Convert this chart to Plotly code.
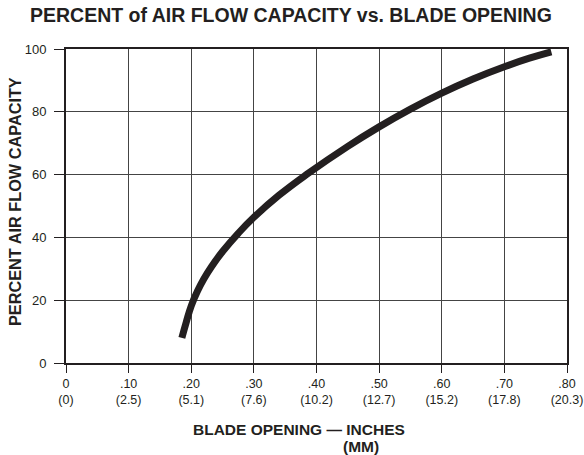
import plotly.graph_objects as go

blade_opening_in = [0.185, 0.192, 0.20, 0.21, 0.22, 0.232, 0.25, 0.275, 0.30, 0.34,
                    0.386, 0.45, 0.50, 0.55, 0.60, 0.65, 0.70, 0.74, 0.775]
air_flow_pct = [8, 13, 18.2, 22.9, 26.75, 30.6, 35.5, 41.3, 46.4, 53.4,
                60.3, 69.0, 75.2, 80.85, 85.95, 90.45, 94.35, 97.07, 99.1]

x_tick_vals = [0, 0.1, 0.2, 0.3, 0.4, 0.5, 0.6, 0.7, 0.8]
x_tick_in = ["0", ".10", ".20", ".30", ".40", ".50", ".60", ".70", ".80"]
x_tick_mm = ["(0)", "(2.5)", "(5.1)", "(7.6)", "(10.2)", "(12.7)", "(15.2)", "(17.8)", "(20.3)"]
y_tick_vals = [0, 20, 40, 60, 80, 100]

ink = "#231f20"
font = "Liberation Sans, Arial, Helvetica, sans-serif"

fig = go.Figure()
fig.add_trace(go.Scatter(
    x=blade_opening_in, y=air_flow_pct, mode="lines",
    line=dict(color=ink, width=7, shape="spline", smoothing=1.3),
    hoverinfo="skip", showlegend=False,
))

W, H = 584, 455
ml, mr, mt, mb = 66, 17, 49, 92
pw, ph = W - ml - mr, H - mt - mb

def px(xp):
    return (xp - ml) / pw

def py(yp):
    return (H - mb - yp) / ph

fig.update_layout(
    width=W, height=H,
    margin=dict(l=ml, r=mr, t=mt, b=mb),
    paper_bgcolor="white", plot_bgcolor="white",
    font=dict(family=font, color=ink, size=13),
    xaxis=dict(
        range=[0, 0.8], tickvals=x_tick_vals,
        ticktext=[f"{a}<br>{b}" for a, b in zip(x_tick_in, x_tick_mm)],
        showgrid=True, gridcolor="#444444", gridwidth=1,
        showline=True, linecolor=ink, linewidth=2, mirror=True,
        ticks="outside", ticklen=8, tickcolor=ink, tickwidth=1,
        tickfont=dict(size=12.5), zeroline=False, automargin=False,
    ),
    yaxis=dict(
        range=[0, 100], tickvals=y_tick_vals,
        showgrid=True, gridcolor="#444444", gridwidth=1,
        showline=True, linecolor=ink, linewidth=2, mirror=True,
        ticks="outside", ticklen=10, tickcolor=ink, tickwidth=1,
        ticklabelstandoff=5, automargin=False,
        tickfont=dict(size=13), zeroline=False,
    ),
    annotations=[
        dict(text="<b>PERCENT of AIR FLOW CAPACITY vs. BLADE OPENING</b>",
             xref="paper", yref="paper", x=px(291), y=py(15),
             xanchor="center", yanchor="middle", showarrow=False,
             font=dict(size=19.5, color=ink, family=font)),
        dict(text="<b>BLADE OPENING — INCHES</b>",
             xref="paper", yref="paper", x=px(299), y=py(429),
             xanchor="center", yanchor="middle", showarrow=False,
             font=dict(size=15.5, color=ink, family=font)),
        dict(text="<b>(MM)</b>",
             xref="paper", yref="paper", x=px(361), y=py(446),
             xanchor="center", yanchor="middle", showarrow=False,
             font=dict(size=15.5, color=ink, family=font)),
        dict(text="<b>PERCENT AIR FLOW CAPACITY</b>",
             xref="paper", yref="paper", x=px(15), y=py(202),
             xanchor="center", yanchor="middle", showarrow=False, textangle=-90,
             font=dict(size=16.3, color=ink, family=font)),
    ],
)

fig.write_html("out.html", config={"displayModeBar": False},
               post_script="document.body.style.margin='0px';")
